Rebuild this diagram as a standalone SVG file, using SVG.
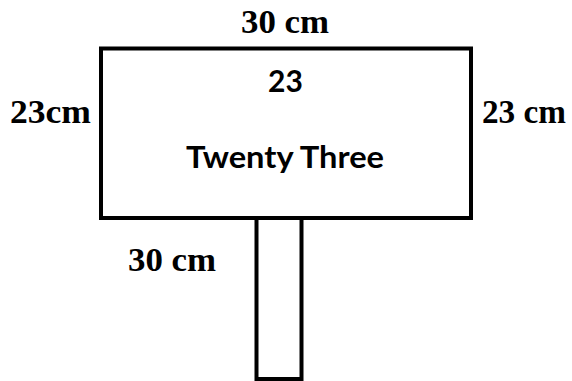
<svg xmlns="http://www.w3.org/2000/svg" width="572" height="381" viewBox="0 0 572 381">
<style>
.shape{fill:#fff;stroke:#000;stroke-width:4}
.dim{font-family:"Liberation Serif","Times New Roman",serif;font-weight:bold;font-size:33px;fill:#000}
.inner{font-family:Lato,"Open Sans",sans-serif;font-weight:bold;font-size:30px;fill:#000;text-anchor:middle}
</style>
<rect width="572" height="381" fill="#fff"/>
<g id="post"><rect class="shape" x="256.5" y="218" width="45" height="161"/></g>
<g id="board">
<rect class="shape" x="101" y="48.5" width="370" height="169.5"/>
<text class="inner" x="285.5" y="92">23</text>
<text class="inner" x="285" y="167.5" font-size="33" textLength="198" lengthAdjust="spacingAndGlyphs">Twenty Three</text>
</g>
<g id="labels">
<text class="dim" x="241" y="33" textLength="88" lengthAdjust="spacingAndGlyphs">30 cm</text>
<text class="dim" x="10" y="123" textLength="81" lengthAdjust="spacingAndGlyphs">23cm</text>
<text class="dim" x="482" y="123" textLength="84" lengthAdjust="spacingAndGlyphs">23 cm</text>
<text class="dim" x="128" y="271" textLength="88" lengthAdjust="spacingAndGlyphs">30 cm</text>
</g>
<g id="connectors"></g>
</svg>
